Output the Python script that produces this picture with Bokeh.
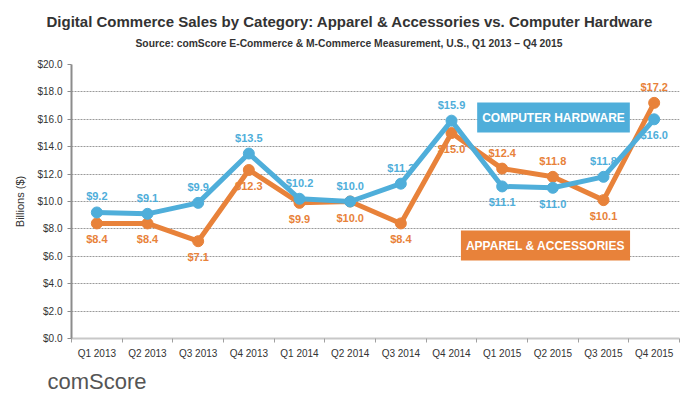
from bokeh.plotting import figure
from bokeh.models import (ColumnDataSource, LabelSet, Label, Range1d, FixedTicker,
                          PrintfTickFormatter, Title)
from bokeh.core.properties import value
from bokeh.embed import file_html
from bokeh.resources import INLINE

quarters = ["Q1 2013", "Q2 2013", "Q3 2013", "Q4 2013", "Q1 2014", "Q2 2014",
            "Q3 2014", "Q4 2014", "Q1 2015", "Q2 2015", "Q3 2015", "Q4 2015"]
hardware = [9.2, 9.1, 9.9, 13.5, 10.2, 10.0, 11.3, 15.9, 11.1, 11.0, 11.8, 16.0]
apparel = [8.4, 8.4, 7.1, 12.3, 9.9, 10.0, 8.4, 15.0, 12.4, 11.8, 10.1, 17.2]
y_ticks = [0, 2, 4, 6, 8, 10, 12, 14, 16, 18, 20]

BLUE = "#4FAEDA"
ORANGE = "#E8823A"
FONT = "Liberation Sans"

xs = [i + 0.5 for i in range(len(quarters))]
off = 16
hw_off = [off if h >= a else -off for h, a in zip(hardware, apparel)]
ap_off = [off if a > h else -off for h, a in zip(hardware, apparel)]

src = ColumnDataSource(dict(
    x=xs, hw=hardware, ap=apparel,
    hw_txt=["$%.1f" % v for v in hardware],
    ap_txt=["$%.1f" % v for v in apparel],
    hw_off=hw_off, ap_off=ap_off,
))

p = figure(width=700, height=398, output_backend="svg", toolbar_location=None,
           x_range=Range1d(0, len(quarters)), y_range=Range1d(0, 20),
           min_border_left=71, min_border_right=21, min_border_top=64,
           min_border_bottom=58)
p.outline_line_color = None
p.background_fill_color = "white"
p.border_fill_color = "white"

# grid
p.xgrid.grid_line_color = None
p.ygrid.grid_line_color = "#9a9a9a"
p.ygrid.grid_line_dash = "2 1"
p.ygrid.grid_line_width = 1
p.ygrid.ticker = FixedTicker(ticks=y_ticks[1:])

# y axis
p.yaxis.ticker = FixedTicker(ticks=y_ticks)
p.yaxis.formatter = PrintfTickFormatter(format="$%.1f")
p.yaxis.axis_label = "Billions ($)"
p.yaxis.axis_label_text_font = FONT
p.yaxis.axis_label_text_font_style = "normal"
p.yaxis.axis_label_text_font_size = "11px"
p.yaxis.axis_label_text_color = "#333333"
p.yaxis.axis_label_standoff = 8
p.yaxis.major_label_text_font = FONT
p.yaxis.major_label_text_font_size = "10px"
p.yaxis.major_label_text_color = "#333333"
p.yaxis.major_label_standoff = 5
p.yaxis.axis_line_color = "#8c8c8c"
p.yaxis.axis_line_width = 2
p.yaxis.major_tick_line_color = "#8c8c8c"
p.yaxis.major_tick_in = 0
p.yaxis.major_tick_out = 4
p.yaxis.minor_tick_line_color = None

# x axis
p.xaxis.ticker = FixedTicker(ticks=xs, minor_ticks=list(range(len(quarters) + 1)))
p.xaxis.major_label_overrides = {x: q for x, q in zip(xs, quarters)}
p.xaxis.major_label_text_font = FONT
p.xaxis.major_label_text_font_size = "10px"
p.xaxis.major_label_text_color = "#333333"
p.xaxis.major_label_standoff = 3
p.xaxis.axis_line_color = "#c8c8c8"
p.xaxis.axis_line_width = 2
p.xaxis.major_tick_line_color = None
p.xaxis.minor_tick_line_color = "#a0a0a0"
p.xaxis.minor_tick_in = 0
p.xaxis.minor_tick_out = 4

# series
p.line("x", "ap", source=src, line_color=ORANGE, line_width=5)
p.scatter("x", "ap", source=src, size=11, fill_color=ORANGE, line_color=ORANGE)
p.line("x", "hw", source=src, line_color=BLUE, line_width=5)
p.scatter("x", "hw", source=src, size=11, fill_color=BLUE, line_color=BLUE)

p.add_layout(LabelSet(x="x", y="ap", text="ap_txt", y_offset="ap_off", source=src,
                      text_align="center", text_baseline="middle",
                      text_color=ORANGE, text_font=value(FONT), text_font_style="bold",
                      text_font_size="11px"))
p.add_layout(LabelSet(x="x", y="hw", text="hw_txt", y_offset="hw_off", source=src,
                      text_align="center", text_baseline="middle",
                      text_color=BLUE, text_font=value(FONT), text_font_style="bold",
                      text_font_size="11px"))

# series name boxes
p.add_layout(Label(x=482, y=221, x_units="screen", y_units="screen",
                   text="COMPUTER HARDWARE", text_align="center", text_baseline="middle",
                   text_color="white", text_font=FONT, text_font_style="bold",
                   text_font_size="12px", background_fill_color=BLUE, padding=[5, 8]))
p.add_layout(Label(x=474, y=93, x_units="screen", y_units="screen",
                   text="APPAREL & ACCESSORIES", text_align="center", text_baseline="middle",
                   text_color="white", text_font=FONT, text_font_style="bold",
                   text_font_size="12px", background_fill_color=ORANGE, padding=[5, 8]))

# titles
p.add_layout(Title(text="Source: comScore E-Commerce & M-Commerce Measurement, U.S., Q1 2013 \u2013 Q4 2015\n",
                   align="left", offset=64, text_color="#333333", text_font=FONT,
                   text_font_style="bold", text_font_size="10.3px"), "above")
p.add_layout(Title(text="Digital Commerce Sales by Category: Apparel & Accessories vs. Computer Hardware",
                   align="left", offset=-25, standoff=2, text_color="#333333", text_font=FONT,
                   text_font_style="bold", text_font_size="15px"), "above")

# logo
p.add_layout(Title(text="comScore", align="left", offset=-24, text_color="#555555",
                   text_font=FONT, text_font_style="normal", text_font_size="22px"), "below")

open("out.html", "w").write(file_html(p, INLINE))
